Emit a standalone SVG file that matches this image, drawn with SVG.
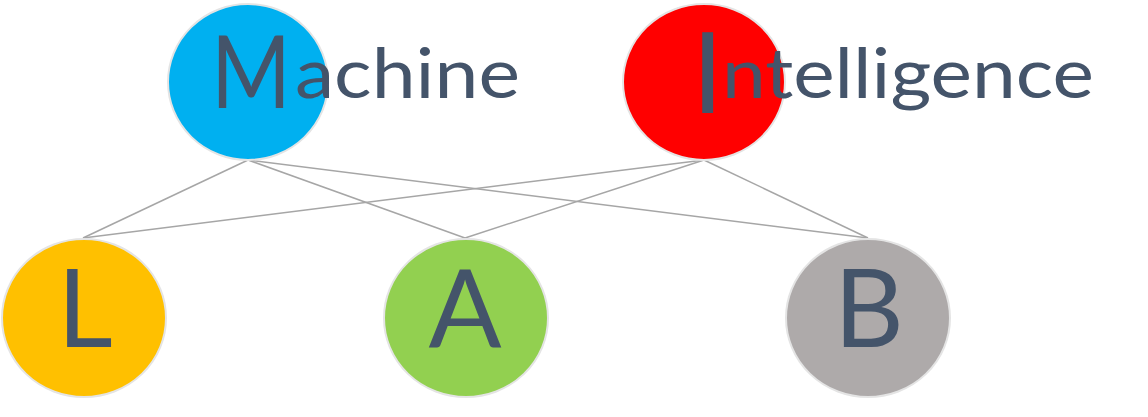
<svg xmlns="http://www.w3.org/2000/svg" width="1148" height="417" viewBox="0 0 1148 417">
<style>
.node{stroke:#e4e4e4;stroke-width:2}
.lbl{font-family:Lato,"Noto Sans","DejaVu Sans",sans-serif;fill:#44546a}
.conn line{stroke:#a6a6a6;stroke-width:1.5}
</style>
<rect width="1148" height="417" fill="#ffffff"/>
<g id="connectors" class="conn">
<line x1="248" y1="160" x2="83" y2="238"/>
<line x1="248" y1="160" x2="465" y2="238"/>
<line x1="248" y1="160" x2="868" y2="238"/>
<line x1="704" y1="160" x2="83" y2="238"/>
<line x1="704" y1="160" x2="465" y2="238"/>
<line x1="704" y1="160" x2="868" y2="238"/>
</g>
<g id="node-machine">
<ellipse class="node" cx="248" cy="82" rx="80" ry="78" fill="#00b0f0"/>
<text class="lbl"><tspan x="211" y="108" font-size="100" textLength="80" lengthAdjust="spacingAndGlyphs">M</tspan><tspan x="295" y="98" font-size="70" textLength="225" lengthAdjust="spacingAndGlyphs">achine</tspan></text>
</g>
<g id="node-intelligence">
<ellipse class="node" cx="704" cy="82" rx="81" ry="78" fill="#ff0000"/>
<text class="lbl"><tspan x="692" y="113" font-size="112">I</tspan><tspan x="722" y="98" font-size="70" textLength="372" lengthAdjust="spacingAndGlyphs">ntelligence</tspan></text>
</g>
<g id="node-l">
<ellipse class="node" cx="84" cy="318" rx="82" ry="79" fill="#ffc000"/>
<text class="lbl" x="85" y="347" font-size="108" text-anchor="middle">L</text>
</g>
<g id="node-a">
<ellipse class="node" cx="466" cy="318" rx="82" ry="79" fill="#92d050"/>
<text class="lbl" x="465" y="347" font-size="108" text-anchor="middle">A</text>
</g>
<g id="node-b">
<ellipse class="node" cx="868" cy="318" rx="82" ry="79" fill="#aeaaaa"/>
<text class="lbl" x="869" y="347" font-size="108" text-anchor="middle">B</text>
</g>
</svg>
